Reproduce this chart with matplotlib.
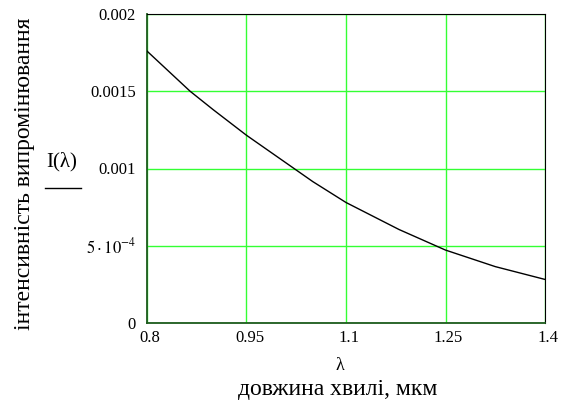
import matplotlib
matplotlib.use('Agg')
import matplotlib.pyplot as plt
import matplotlib.transforms as mtransforms

plt.rcParams['font.family'] = ['Liberation Serif', 'DejaVu Serif']
plt.rcParams['mathtext.fontset'] = 'stix'

# довжина хвилі, мкм і інтенсивність
lam = [0.8, 0.83, 0.865, 0.9, 0.95, 1.0, 1.05, 1.1, 1.18, 1.25, 1.325, 1.4]
intens = [0.00176, 0.00164, 0.0015, 0.00138, 0.001215, 0.001065, 0.000915,
          0.00078, 0.000605, 0.000472, 0.000365, 0.000282]

xticks = [0.8, 0.95, 1.1, 1.25, 1.4]
xtick_labels = ['0.8', '0.95', '1.1', '1.25', '1.4']
yticks = [0, 0.0005, 0.001, 0.0015, 0.002]
ytick_labels = ['0', r'$5\cdot10^{-4}$', '0.001', '0.0015', '0.002']

fig = plt.figure(figsize=(5.61, 4.0), dpi=100)
ax = fig.add_axes([147/561, 1 - 323/400, 398/561, 309/400])

ax.plot(lam, intens, color='black', lw=1.0, zorder=3)

ax.set_xlim(0.8, 1.4)
ax.set_ylim(0, 0.002)
ax.set_xticks(xticks)
ax.set_xticklabels(xtick_labels)
ax.set_yticks(yticks)
ax.set_yticklabels(ytick_labels)
ax.tick_params(length=0, labelsize=12)
ax.tick_params(axis='y', pad=8)
ax.tick_params(axis='x', pad=5)
ax.grid(True, color='#33ff33', lw=1.0)

# трохи зсунути підписи по x вправо
shift = mtransforms.ScaledTranslation(3/100, 0, fig.dpi_scale_trans)
for lbl in ax.get_xticklabels():
    lbl.set_transform(lbl.get_transform() + shift)

# рамка
for s in ['top', 'right']:
    ax.spines[s].set_color('black')
for s in ['left', 'bottom']:
    ax.spines[s].set_color('#1d5a1d')
    ax.spines[s].set_linewidth(1.3)

# підписи осей
fig.text(25/561, 1 - 174/400, 'інтенсивність випромінювання', rotation=90,
         ha='center', va='center', fontsize=17)
fig.text(62/561, 1 - 162/400, 'I(λ)', ha='center', va='center', fontsize=15)
fig.add_artist(plt.Line2D([45/561, 81/561], [1 - 188/400, 1 - 188/400],
                          color='black', lw=1.0))
fig.text(340/561, 1 - 365/400, 'λ', ha='center', va='center', fontsize=13)
fig.text(338/561, 1 - 390/400, 'довжина хвилі, мкм', ha='center', va='center', fontsize=17)

fig.savefig('out.png', dpi=100)
